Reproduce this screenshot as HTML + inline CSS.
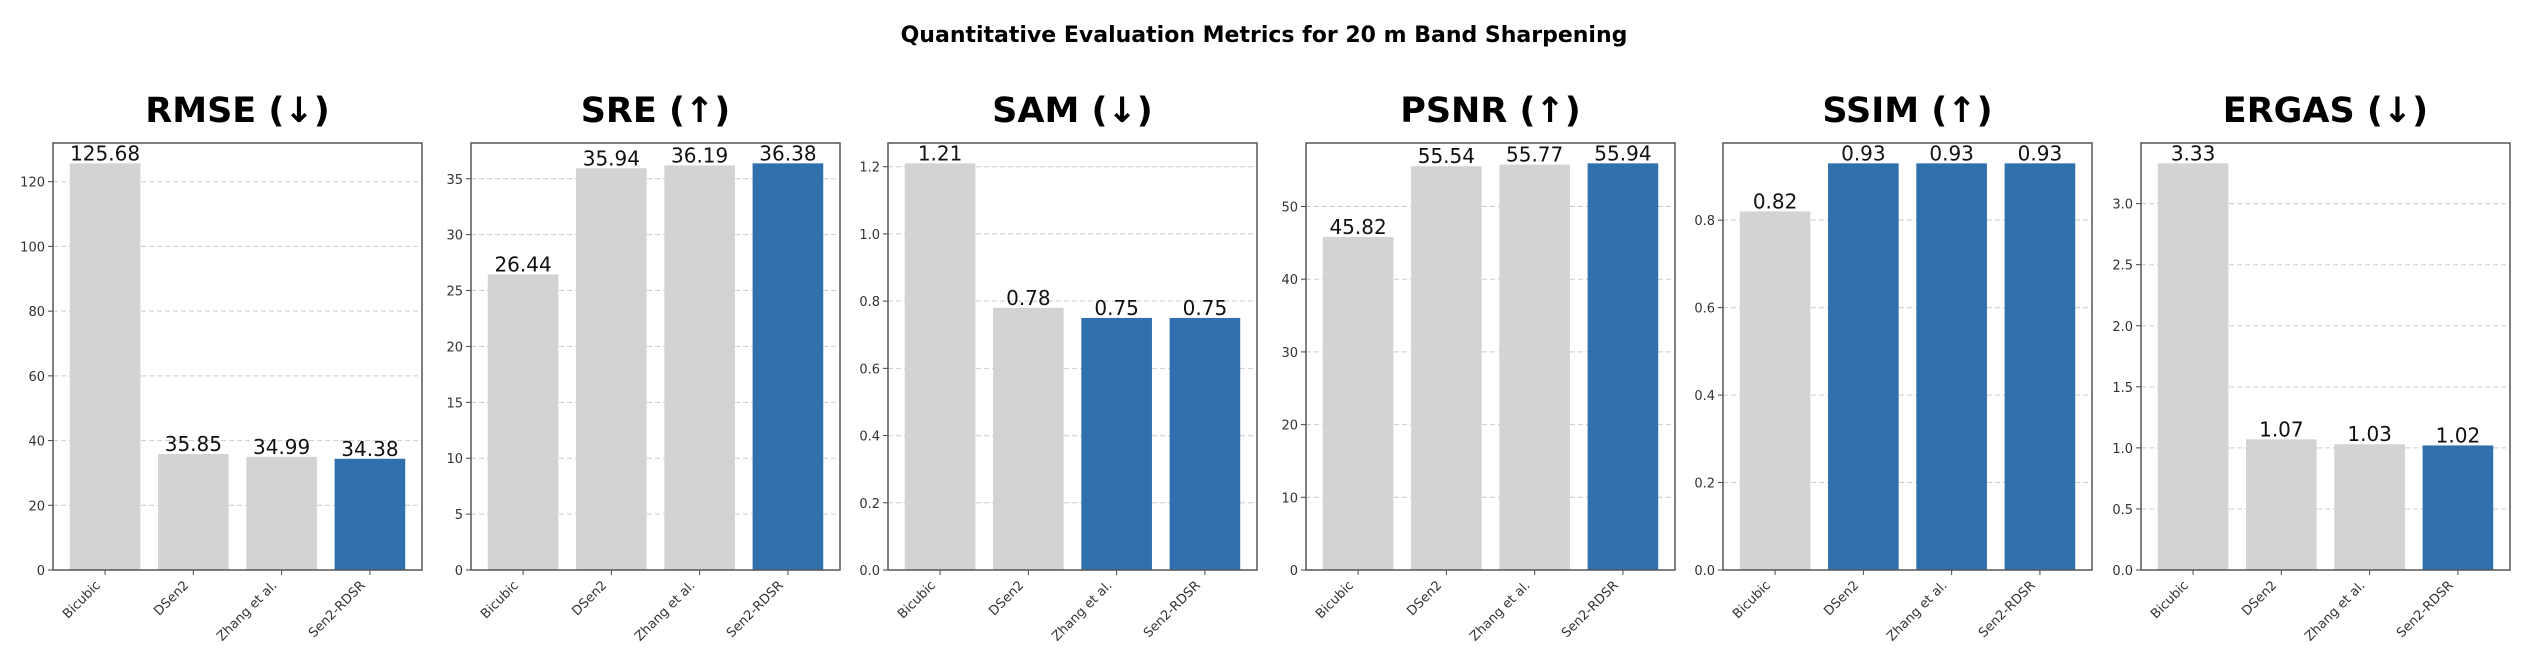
<!DOCTYPE html>
<html><head><meta charset="utf-8"><style>
html,body{margin:0;padding:0;background:#fff;}
svg{display:block;font-family:"DejaVu Sans","Liberation Sans",sans-serif;}
</style></head><body>
<svg id="fig" width="2528" height="660" viewBox="0 0 2528 660">
<text x="1264" y="42" text-anchor="middle" font-size="22" font-weight="bold" fill="#000">Quantitative Evaluation Metrics for 20 m Band Sharpening</text>
</svg>
<script>
const categories = ["Bicubic","DSen2","Zhang et al.","Sen2-RDSR"];
const metricTitles = ["RMSE (↓)","SRE (↑)","SAM (↓)","PSNR (↑)","SSIM (↑)","ERGAS (↓)"];
const rmseValues = [125.68,35.85,34.99,34.38];
const sreValues = [26.44,35.94,36.19,36.38];
const samValues = [1.21,0.78,0.75,0.75];
const psnrValues = [45.82,55.54,55.77,55.94];
const ssimValues = [0.82,0.93,0.93,0.93];
const ergasValues = [3.33,1.07,1.03,1.02];
const rmseTicks = [0,20,40,60,80,100,120];
const sreTicks = [0,5,10,15,20,25,30,35];
const samTicks = [0,0.2,0.4,0.6,0.8,1.0,1.2];
const psnrTicks = [0,10,20,30,40,50];
const ssimTicks = [0,0.2,0.4,0.6,0.8];
const ergasTicks = [0,0.5,1.0,1.5,2.0,2.5,3.0];
const tickDecimals = [0,0,1,0,1,1];
const lowerIsBetter = [true,false,true,false,false,true];

const seriesList = [rmseValues,sreValues,samValues,psnrValues,ssimValues,ergasValues];
const tickList = [rmseTicks,sreTicks,samTicks,psnrTicks,ssimTicks,ergasTicks];
const NS = "http://www.w3.org/2000/svg";
const svg = document.getElementById('fig');
function mk(tag, attrs, parent){
  const e = document.createElementNS(NS, tag);
  for (const k in attrs) e.setAttribute(k, attrs[k]);
  (parent||svg).appendChild(e);
  return e;
}
const lefts = [53,471,888,1306,1723,2141];
const W = 369, top0 = 143, bot = 570, H = bot - top0;
seriesList.forEach((vals, p) => {
  const g = mk('g', {});
  
  
  const L = lefts[p];
  const ymax = Math.max(...vals) * 1.05;
  const y = v => bot - v / ymax * H;
  const x = i => L + (i + 0.59) / 4.18 * W;
  const bw = 0.8 / 4.18 * W;
  const best = lowerIsBetter[p] ? Math.min(...vals) : Math.max(...vals);
  // title
  const t = mk('text', {x: L + W/2, y: 122, 'text-anchor':'middle', 'font-size':'35', 'font-weight':'bold', fill:'#000'}, g);
  t.textContent = metricTitles[p];
  
  
  // grid + ticks
  tickList[p].forEach(tv => {
    const yy = y(tv);
    const gl = mk('line', {x1:L, x2:L+W, y1:yy, y2:yy, stroke:'#cccccc', 'stroke-width':'1', 'stroke-dasharray':'5,3'}, g);
    
    
    mk('line', {x1:L-5, x2:L, y1:yy, y2:yy, stroke:'#444', 'stroke-width':'1'}, g);
    const tl = mk('text', {x:L-8, y:yy+5, 'text-anchor':'end', 'font-size':'13', fill:'#333'}, g);
    tl.textContent = tv.toFixed(tickDecimals[p]);
    
    
  });
  vals.forEach((v, i) => {
    const r = mk('rect', {x: x(i) - bw/2, y: y(v), width: bw, height: bot - y(v), fill: (Math.abs(v - best) < 1e-9) ? '#3070ad' : '#d3d3d3'}, g);
    
    
    const vl = mk('text', {x: x(i), y: y(v) - 3, 'text-anchor':'middle', 'font-size':'20', fill:'#111'}, g);
    vl.textContent = v.toFixed(2);
    
    
    mk('line', {x1:x(i), x2:x(i), y1:bot, y2:bot+5, stroke:'#444', 'stroke-width':'1'}, g);
    const xl = mk('text', {x: x(i) - 4, y: bot + 16, 'text-anchor':'end', 'font-size':'13', fill:'#333', transform:'rotate(-45 ' + (x(i)-4) + ' ' + (bot+16) + ')'}, g);
    xl.textContent = categories[i];
    
    
  });
  const fr = mk('rect', {x:L, y:top0, width:W, height:H, fill:'none', stroke:'#555', 'stroke-width':'1.5'}, g);
  
  
});
</script>
</body></html>
